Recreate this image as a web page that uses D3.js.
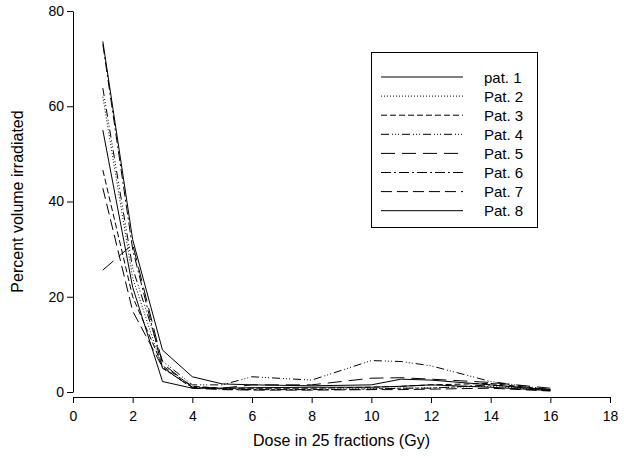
<!DOCTYPE html>
<html>
<head>
<meta charset="utf-8">
<script src="https://cdn.jsdelivr.net/npm/d3@7"></script>
<style>
  body { margin: 0; background: #fff; }
  text { font-family: "Liberation Sans", Arial, sans-serif; fill: #000; }
</style>
</head>
<body>
<div id="chart"></div>
<script>
const doses = [1, 2, 3, 4, 5, 6, 8, 10, 11, 12, 14, 16];
const pat1 = [55, 22, 2.2, 0.8, 0.8, 0.9, 1.0, 1.0, 1.2, 1.5, 1.0, 0.3];
const pat2 = [62, 24, 5, 1.0, 0.7, 0.6, 0.6, 0.7, 0.8, 0.9, 1.2, 0.3];
const pat3 = [46.6, 20, 5.5, 1.2, 0.8, 0.8, 0.8, 1.0, 1.2, 1.5, 1.8, 0.5];
const pat4 = [63.8, 26, 6.5, 1.5, 1.5, 3.2, 2.5, 6.6, 6.4, 5.5, 2.2, 0.5];
const pat5 = [25.6, 31, 6, 1.0, 0.8, 1.5, 1.5, 2.9, 3.0, 2.7, 2.0, 0.8];
const pat6 = [73, 30, 5, 1.0, 0.6, 0.5, 0.5, 0.6, 0.8, 0.8, 1.5, 0.4];
const pat7 = [42.8, 17, 5.2, 0.8, 0.5, 0.4, 0.4, 0.5, 0.5, 0.6, 0.8, 0.2];
const pat8 = [73.6, 32, 8.8, 3.2, 1.7, 1.5, 1.3, 1.5, 2.7, 2.5, 1.5, 0.4];
const labels = ['pat. 1', 'Pat. 2', 'Pat. 3', 'Pat. 4', 'Pat. 5', 'Pat. 6', 'Pat. 7', 'Pat. 8'];
const xTicks = [0, 2, 4, 6, 8, 10, 12, 14, 16, 18];
const yTicks = [0, 20, 40, 60, 80];

const series = [pat1, pat2, pat3, pat4, pat5, pat6, pat7, pat8];
const dashes = ['none', '1,2', '6,3', '8,3,1,2,1,2,1,3', '14,7', '10,3,2,3', '11,5', 'none'];

const width = 624, height = 458;
const margin = { t: 11, r: 14, l: 73, b: 66 };

const svg = d3.select('#chart').append('svg')
  .attr('width', width)
  .attr('height', height);

const x = d3.scaleLinear().domain([0, 18]).range([margin.l, width - margin.r]);
const y = d3.scaleLinear().domain([0, 80]).range([height - margin.b, margin.t]);
const xAxisY = y(0) + 5;

// axes
svg.append('g')
  .attr('transform', `translate(0,${xAxisY})`)
  .call(d3.axisBottom(x).tickValues(xTicks).tickSize(6).tickPadding(8).tickSizeOuter(0))
  .call(g => g.selectAll('text').attr('font-size', 14))
  .call(g => g.selectAll('line,path').attr('stroke', '#000'));

svg.append('g')
  .attr('transform', `translate(${margin.l},0)`)
  .call(d3.axisLeft(y).tickValues(yTicks).tickSize(6).tickPadding(3).tickSizeOuter(0))
  .call(g => g.selectAll('text').attr('font-size', 14))
  .call(g => g.selectAll('line,path').attr('stroke', '#000'));

// lines
const line = d3.line()
  .x((d, i) => x(doses[i]))
  .y(d => y(d));

svg.append('g')
  .selectAll('path')
  .data(series)
  .join('path')
  .attr('d', d => line(d))
  .attr('fill', 'none')
  .attr('stroke', '#000')
  .attr('stroke-width', 1)
  .attr('stroke-dasharray', (_, i) => dashes[i]);

// legend
const lg = svg.append('g');
lg.append('rect')
  .attr('x', 371.5).attr('y', 52.5)
  .attr('width', 166).attr('height', 175)
  .attr('fill', '#fff').attr('stroke', '#000');

const rowY = i => 77 + i * 19.1;
lg.selectAll('line')
  .data(labels)
  .join('line')
  .attr('x1', 381).attr('x2', 463)
  .attr('y1', (_, i) => rowY(i)).attr('y2', (_, i) => rowY(i))
  .attr('stroke', '#000')
  .attr('stroke-dasharray', (_, i) => dashes[i]);

lg.selectAll('text')
  .data(labels)
  .join('text')
  .attr('x', 484)
  .attr('y', (_, i) => rowY(i) + 5.5)
  .attr('font-size', 15)
  .text(d => d);

// titles
svg.append('text')
  .attr('x', (margin.l + width - margin.r) / 2)
  .attr('y', 446)
  .attr('text-anchor', 'middle')
  .attr('font-size', 16)
  .text('Dose in 25 fractions (Gy)');

svg.append('text')
  .attr('transform', `translate(23,${y(40)}) rotate(-90)`)
  .attr('text-anchor', 'middle')
  .attr('font-size', 16)
  .text('Percent volume irradiated');
</script>
</body>
</html>
